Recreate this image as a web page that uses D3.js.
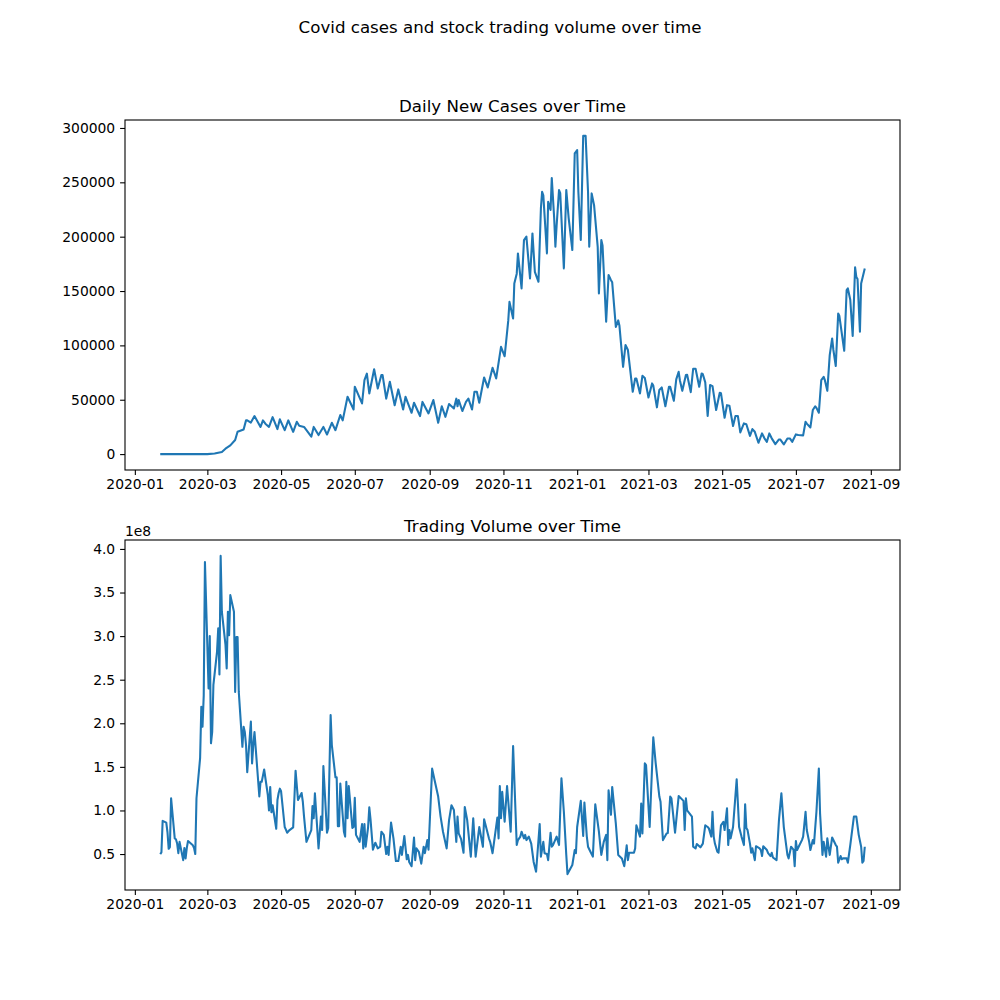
<!DOCTYPE html>
<html><head><meta charset="utf-8">
<script src="https://cdn.jsdelivr.net/npm/d3@7"></script>
<style>body{margin:0;background:#fff} svg{display:block;font-family:"DejaVu Sans",sans-serif}</style>
</head><body><svg id="chart" width="1000" height="1000"></svg>
<script>
const caseDates = ["2020-01-22","2020-03-01","2020-03-07","2020-03-13","2020-03-16","2020-03-20","2020-03-24","2020-03-26","2020-03-31","2020-04-02","2020-04-03","2020-04-06","2020-04-09","2020-04-14","2020-04-16","2020-04-18","2020-04-21","2020-04-24","2020-04-28","2020-04-30","2020-05-04","2020-05-07","2020-05-11","2020-05-14","2020-05-16","2020-05-20","2020-05-22","2020-05-26","2020-05-28","2020-06-01","2020-06-05","2020-06-08","2020-06-12","2020-06-15","2020-06-19","2020-06-21","2020-06-25","2020-06-30","2020-07-01","2020-07-07","2020-07-09","2020-07-11","2020-07-13","2020-07-17","2020-07-20","2020-07-23","2020-07-24","2020-07-27","2020-07-30","2020-08-03","2020-08-06","2020-08-10","2020-08-12","2020-08-17","2020-08-19","2020-08-24","2020-08-26","2020-08-31","2020-09-04","2020-09-08","2020-09-11","2020-09-14","2020-09-17","2020-09-21","2020-09-23","2020-09-24","2020-09-25","2020-09-28","2020-10-01","2020-10-03","2020-10-06","2020-10-08","2020-10-10","2020-10-12","2020-10-16","2020-10-19","2020-10-23","2020-10-26","2020-10-30","2020-11-02","2020-11-05","2020-11-06","2020-11-09","2020-11-10","2020-11-12","2020-11-13","2020-11-16","2020-11-18","2020-11-20","2020-11-23","2020-11-25","2020-11-27","2020-11-30","2020-12-02","2020-12-03","2020-12-04","2020-12-07","2020-12-08","2020-12-10","2020-12-11","2020-12-13","2020-12-14","2020-12-15","2020-12-17","2020-12-18","2020-12-21","2020-12-23","2020-12-25","2020-12-28","2020-12-30","2021-01-01","2021-01-02","2021-01-04","2021-01-06","2021-01-08","2021-01-10","2021-01-11","2021-01-13","2021-01-15","2021-01-18","2021-01-19","2021-01-21","2021-01-22","2021-01-25","2021-01-27","2021-01-29","2021-01-30","2021-02-02","2021-02-04","2021-02-05","2021-02-08","2021-02-10","2021-02-12","2021-02-16","2021-02-18","2021-02-19","2021-02-22","2021-02-24","2021-02-26","2021-03-01","2021-03-04","2021-03-05","2021-03-08","2021-03-10","2021-03-12","2021-03-15","2021-03-18","2021-03-19","2021-03-22","2021-03-24","2021-03-26","2021-03-27","2021-03-29","2021-04-01","2021-04-02","2021-04-05","2021-04-07","2021-04-09","2021-04-12","2021-04-14","2021-04-15","2021-04-17","2021-04-19","2021-04-21","2021-04-23","2021-04-26","2021-04-29","2021-04-30","2021-05-03","2021-05-05","2021-05-07","2021-05-10","2021-05-12","2021-05-14","2021-05-16","2021-05-19","2021-05-21","2021-05-24","2021-05-26","2021-05-28","2021-05-31","2021-06-03","2021-06-05","2021-06-07","2021-06-09","2021-06-11","2021-06-14","2021-06-17","2021-06-18","2021-06-21","2021-06-24","2021-06-26","2021-06-28","2021-07-01","2021-07-03","2021-07-07","2021-07-09","2021-07-10","2021-07-13","2021-07-15","2021-07-17","2021-07-18","2021-07-20","2021-07-22","2021-07-24","2021-07-25","2021-07-27","2021-07-29","2021-07-31","2021-08-01","2021-08-03","2021-08-05","2021-08-06","2021-08-10","2021-08-12","2021-08-13","2021-08-15","2021-08-17","2021-08-19","2021-08-20","2021-08-21","2021-08-23","2021-08-24","2021-08-27"];
const caseCounts = [0,0,500,2000,5000,8000,13000,20500,22700,31000,31000,29000,35000,25000,31000,28000,25000,34000,23000,32000,22000,31000,20500,29700,26000,25000,22000,16000,25000,17500,25000,18000,28800,22000,36000,31000,52700,41000,62000,46600,68000,74000,55800,78000,60400,72700,72700,51000,66500,45000,59500,41000,52700,38000,47200,35000,48000,37400,49700,28800,44000,34300,46000,42000,51000,44000,49700,39600,48000,51000,41000,57300,57300,47200,70500,61300,79400,69600,98700,90000,123000,140000,124800,157000,166000,184600,152400,196900,200000,161600,203000,167700,158500,226000,241300,238000,184600,232000,224500,254000,216800,190700,210000,242900,240000,170800,243000,216800,187700,276600,279700,241300,196900,292700,292700,241300,190700,239800,229000,190700,147800,196900,192000,121700,164700,160000,158000,117000,123000,118000,80300,100300,95700,57300,69600,69600,55800,72000,70000,52000,65000,63000,43000,59000,61300,44000,62000,62000,49000,68700,75700,68000,58200,72700,73000,57000,78500,78500,62000,74200,73500,66000,35000,63500,62500,40500,56400,56000,33400,45000,44500,25800,35000,35000,20000,28200,27500,16800,23000,20500,10400,19000,14500,11300,19000,14500,9200,13500,13500,8900,14400,14400,11300,18100,17500,17200,29700,28000,24500,40500,44000,42500,38000,68000,71000,68000,58200,91000,106400,96000,81000,129400,127000,95000,150900,152400,142000,108600,171800,163000,161000,112500,157000,170800];

const volumeDates = ["2020-01-22","2020-01-23","2020-01-24","2020-01-27","2020-01-28","2020-01-29","2020-01-30","2020-01-31","2020-02-03","2020-02-04","2020-02-05","2020-02-06","2020-02-07","2020-02-10","2020-02-11","2020-02-12","2020-02-13","2020-02-14","2020-02-18","2020-02-19","2020-02-20","2020-02-21","2020-02-24","2020-02-25","2020-02-26","2020-02-27","2020-02-28","2020-03-02","2020-03-03","2020-03-04","2020-03-05","2020-03-06","2020-03-09","2020-03-10","2020-03-11","2020-03-12","2020-03-13","2020-03-16","2020-03-17","2020-03-18","2020-03-19","2020-03-20","2020-03-23","2020-03-24","2020-03-25","2020-03-26","2020-03-27","2020-03-30","2020-03-31","2020-04-01","2020-04-02","2020-04-03","2020-04-06","2020-04-07","2020-04-08","2020-04-09","2020-04-13","2020-04-14","2020-04-15","2020-04-16","2020-04-17","2020-04-20","2020-04-21","2020-04-22","2020-04-23","2020-04-24","2020-04-27","2020-04-28","2020-04-29","2020-04-30","2020-05-01","2020-05-04","2020-05-05","2020-05-06","2020-05-08","2020-05-11","2020-05-13","2020-05-15","2020-05-18","2020-05-19","2020-05-20","2020-05-22","2020-05-26","2020-05-27","2020-05-28","2020-05-29","2020-06-01","2020-06-03","2020-06-04","2020-06-05","2020-06-08","2020-06-09","2020-06-11","2020-06-12","2020-06-15","2020-06-16","2020-06-17","2020-06-18","2020-06-19","2020-06-22","2020-06-23","2020-06-24","2020-06-25","2020-06-26","2020-06-29","2020-06-30","2020-07-01","2020-07-02","2020-07-05","2020-07-07","2020-07-08","2020-07-09","2020-07-10","2020-07-12","2020-07-13","2020-07-14","2020-07-16","2020-07-18","2020-07-20","2020-07-22","2020-07-23","2020-07-25","2020-07-27","2020-07-28","2020-07-29","2020-07-31","2020-08-02","2020-08-04","2020-08-06","2020-08-08","2020-08-09","2020-08-11","2020-08-13","2020-08-14","2020-08-15","2020-08-17","2020-08-19","2020-08-20","2020-08-21","2020-08-23","2020-08-25","2020-08-27","2020-08-28","2020-08-30","2020-08-31","2020-09-03","2020-09-05","2020-09-08","2020-09-10","2020-09-12","2020-09-15","2020-09-17","2020-09-19","2020-09-21","2020-09-23","2020-09-24","2020-09-25","2020-09-27","2020-09-29","2020-09-30","2020-10-02","2020-10-05","2020-10-07","2020-10-09","2020-10-12","2020-10-15","2020-10-16","2020-10-20","2020-10-21","2020-10-23","2020-10-27","2020-10-28","2020-10-29","2020-10-30","2020-10-31","2020-11-02","2020-11-04","2020-11-07","2020-11-09","2020-11-12","2020-11-13","2020-11-15","2020-11-16","2020-11-18","2020-11-19","2020-11-20","2020-11-22","2020-11-24","2020-11-26","2020-11-28","2020-12-01","2020-12-02","2020-12-04","2020-12-05","2020-12-07","2020-12-08","2020-12-10","2020-12-11","2020-12-12","2020-12-15","2020-12-17","2020-12-19","2020-12-21","2020-12-23","2020-12-24","2020-12-28","2020-12-30","2020-12-31","2021-01-01","2021-01-04","2021-01-06","2021-01-07","2021-01-09","2021-01-10","2021-01-12","2021-01-14","2021-01-16","2021-01-19","2021-01-20","2021-01-21","2021-01-23","2021-01-25","2021-01-26","2021-01-27","2021-01-29","2021-01-30","2021-02-02","2021-02-04","2021-02-07","2021-02-09","2021-02-11","2021-02-12","2021-02-13","2021-02-17","2021-02-18","2021-02-19","2021-02-22","2021-02-23","2021-02-24","2021-02-26","2021-02-27","2021-03-02","2021-03-05","2021-03-07","2021-03-10","2021-03-11","2021-03-13","2021-03-16","2021-03-17","2021-03-19","2021-03-20","2021-03-23","2021-03-26","2021-03-30","2021-03-31","2021-04-01","2021-04-02","2021-04-06","2021-04-07","2021-04-09","2021-04-10","2021-04-13","2021-04-15","2021-04-17","2021-04-19","2021-04-20","2021-04-22","2021-04-23","2021-04-24","2021-04-25","2021-04-27","2021-04-28","2021-04-30","2021-05-02","2021-05-03","2021-05-05","2021-05-06","2021-05-07","2021-05-08","2021-05-10","2021-05-13","2021-05-15","2021-05-17","2021-05-19","2021-05-20","2021-05-21","2021-05-22","2021-05-24","2021-05-25","2021-05-26","2021-05-28","2021-05-29","2021-06-01","2021-06-02","2021-06-03","2021-06-04","2021-06-07","2021-06-08","2021-06-10","2021-06-11","2021-06-12","2021-06-15","2021-06-17","2021-06-19","2021-06-21","2021-06-24","2021-06-25","2021-06-27","2021-06-29","2021-06-30","2021-07-01","2021-07-02","2021-07-04","2021-07-06","2021-07-07","2021-07-09","2021-07-10","2021-07-12","2021-07-13","2021-07-15","2021-07-16","2021-07-18","2021-07-20","2021-07-21","2021-07-23","2021-07-24","2021-07-26","2021-07-27","2021-07-29","2021-07-31","2021-08-03","2021-08-04","2021-08-05","2021-08-07","2021-08-08","2021-08-09","2021-08-12","2021-08-13","2021-08-15","2021-08-18","2021-08-20","2021-08-22","2021-08-24","2021-08-25","2021-08-26","2021-08-27"];
// trading volume in millions of shares
const volumeMillions = [50,52,88,86,75,56,58,114,68,67,62,51,64,43,57,45,57,65,60,57,50,114,160,219,196,232,385,240,300,177,190,244,282,309,256,392,328,290,263,328,301,347,328,236,299,299,236,173,196,190,175,144,202,154,175,190,116,133,133,140,147,118,100,127,98,106,79,112,120,125,122,81,78,74.5,77.5,80.6,145.6,112,120,110,93,64,77.5,105,91,119.6,56.5,93,77.5,151,74.5,80,209.5,175,138,138,82,82,131,75.6,70,133,91,128,80,81,114.6,72,64,84.4,56.5,84.4,58.4,80.6,103.6,90,55,63,56.5,58.4,75.6,72,50,58.4,49,86,68,42,42,58.4,49,70.7,44,49,41,36,69,43,56.5,52.6,39,58.4,51,66,55,148,135,116,93,75.6,56.5,89,106,100.5,64,93,73.6,67,51.5,104,89,47,91,47,81,58.4,90,68,64,51,92,68,128,91,121.5,87,128,75.6,174,60.3,66,70,75.6,68,72,66,70,62,41,29.7,84.4,47,64,51,50,43,74.5,58.4,60.3,70,60.3,137,98.5,49,27,37.4,54.6,51,81,111,70.7,109,70,58.4,52.6,47,107,75.6,62,49,64,72,43,123,95,127,85,49,45,36,60,43,51.5,51.5,56.5,83,70,108,73.6,154,152,81,184,154,116,110,66,73.6,74,116,114,74.5,116.5,111,77.5,114,100,93,58.4,56.5,61.5,57.7,62,83,81,79.4,70,98.5,70,62,52.6,51.5,83,87,77.5,102.4,60.3,77.5,68,81,135.7,81,70,60.3,107,80,77.5,62,51.5,56.5,43,59,56.5,54.6,47.7,59,54.6,51,47.7,51.5,46,43,89,119.6,81,49,45,58.4,55,36,65,54.6,60.3,66,70,98.5,77.5,64,54.6,66,62,98.5,148,96.7,49,64,47,68,49,69,60.3,58.4,40,47.7,44,45,45,40,60.3,93,93,72,58.4,40,42,58.4];

const xTickLabels = ["2020-01","2020-03","2020-05","2020-07","2020-09","2020-11","2021-01","2021-03","2021-05","2021-07","2021-09"];
const caseTicks = [0,50000,100000,150000,200000,250000,300000];
const volumeTicks = [50,100,150,200,250,300,350,400];

const parseDay = d3.timeParse("%Y-%m-%d");
const parseMonth = d3.timeParse("%Y-%m");
const cases = caseDates.map((d,i)=>({date:parseDay(d), value:caseCounts[i]}));
const volume = volumeDates.map((d,i)=>({date:parseDay(d), value:volumeMillions[i]}));

const svg = d3.select("#chart");
const L = 125, R = 900;
const BLUE = "#1f77b4";
const FS = 13.89, TFS = 16.67;

function padded(ext){ const r = ext[1]-ext[0]; return [ext[0]-0.05*r, ext[1]+0.05*r]; }

function panel(data, top, bottom, title, ticks, tickFmt, offsetText){
  const xe = d3.extent(data, d=>+d.date);
  const x = d3.scaleTime().domain(padded(xe).map(v=>new Date(v))).range([L,R]);
  const y = d3.scaleLinear().domain(padded(d3.extent(data, d=>d.value))).range([bottom, top]);
  const g = svg.append("g");
  g.append("path").datum(data)
    .attr("fill","none").attr("stroke",BLUE).attr("stroke-width",2.08)
    .attr("stroke-linejoin","round")
    .attr("d", d3.line().x(d=>x(d.date)).y(d=>y(d.value)));
  g.append("rect").attr("x",L).attr("y",top).attr("width",R-L).attr("height",bottom-top)
    .attr("fill","none").attr("stroke","#000").attr("stroke-width",1.1);
  const xa = g.append("g").attr("transform",`translate(0,${bottom})`)
    .call(d3.axisBottom(x).tickValues(xTickLabels.map(parseMonth)).tickFormat(d3.timeFormat("%Y-%m"))
      .tickSizeOuter(0).tickSize(4.9).tickPadding(4.6));
  const ya = g.append("g").attr("transform",`translate(${L},0)`)
    .call(d3.axisLeft(y).tickValues(ticks).tickFormat(tickFmt).tickSizeOuter(0).tickSize(4.9).tickPadding(4.9));
  [xa,ya].forEach(a=>{
    a.select(".domain").remove();
    a.selectAll("line").attr("stroke","#000").attr("stroke-width",1.1);
    a.selectAll("text").attr("fill","#000").style("font-size",FS+"px").style("font-family",'"DejaVu Sans",sans-serif');
  });
  g.append("text").attr("x",(L+R)/2).attr("y",top-8.3).attr("text-anchor","middle")
    .style("font-size",TFS+"px").text(title);
  if(offsetText){
    g.append("text").attr("x",L).attr("y",top-4).style("font-size",FS+"px").text(offsetText);
  }
}

svg.append("text").attr("x",500).attr("y",33).attr("text-anchor","middle")
  .style("font-size",TFS+"px").text("Covid cases and stock trading volume over time");

panel(cases, 120, 470, "Daily New Cases over Time", caseTicks, d3.format("d"), null);
panel(volume, 540, 890, "Trading Volume over Time", volumeTicks, v=>(v/100).toFixed(1), "1e8");
</script></body></html>
